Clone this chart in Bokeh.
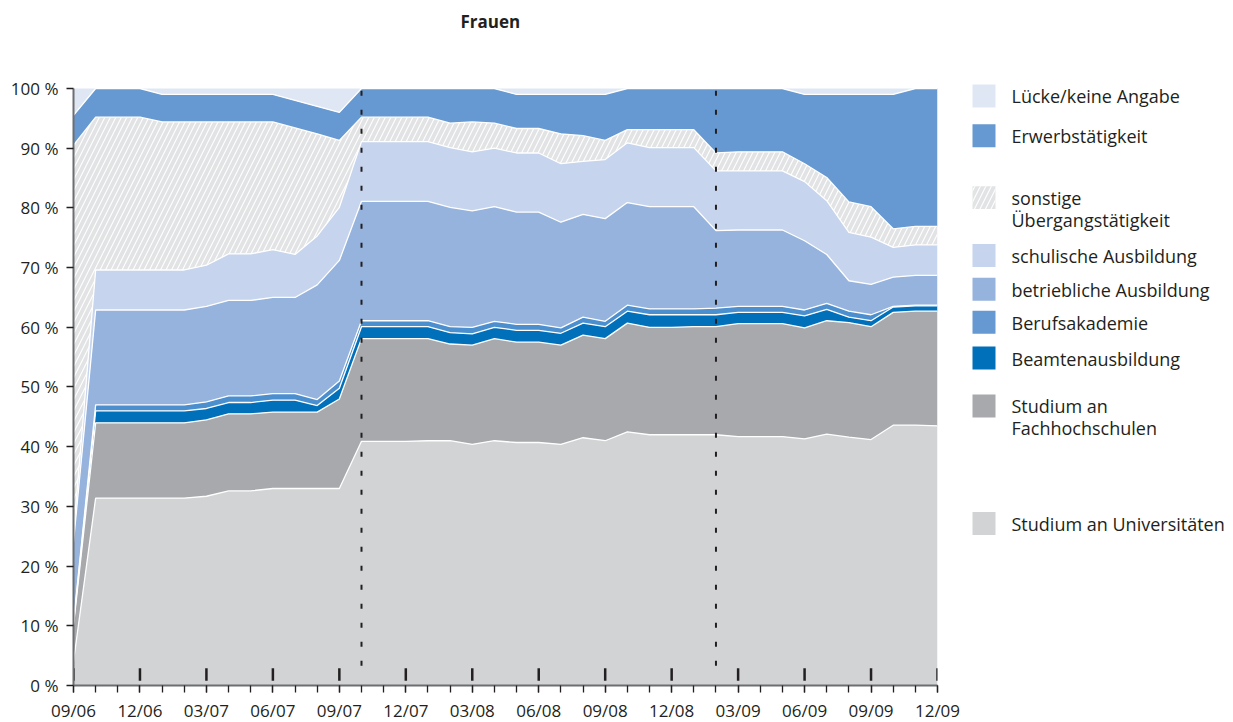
import numpy as np
from bokeh.plotting import figure
from bokeh.layouts import row
from bokeh.models import Range1d, FixedTicker, Title
from bokeh.embed import file_html
from bokeh.resources import INLINE
from bokeh.core.properties import value

# ---------------- data ----------------
months = list(range(40))  # 09/06 ... 12/09, monthly
quarter_ticks = list(range(0, 40, 3))
quarter_labels = ["09/06", "12/06", "03/07", "06/07", "09/07", "12/07", "03/08",
                  "06/08", "09/08", "12/08", "03/09", "06/09", "09/09", "12/09"]
period_markers = [13, 29]
y_ticks = list(range(0, 101, 10))

uni = [4.0, 31.4, 31.4, 31.4, 31.4, 31.4, 31.7, 32.6, 32.6, 33.0, 33.0, 33.0, 33.0,
       40.9, 40.9, 40.9, 41.0, 41.0, 40.4, 41.0, 40.7, 40.7, 40.4, 41.5, 41.0, 42.5,
       42.0, 42.0, 42.0, 42.0, 41.7, 41.7, 41.7, 41.3, 42.1, 41.6, 41.2, 43.6, 43.6, 43.5]
fh = [6.0, 12.6, 12.6, 12.6, 12.6, 12.6, 12.8, 12.9, 12.9, 12.8, 12.8, 12.8, 15.0,
      17.2, 17.2, 17.2, 17.1, 16.2, 16.6, 17.1, 16.8, 16.8, 16.6, 17.2, 17.1, 18.2,
      18.0, 18.0, 18.1, 18.1, 18.9, 18.9, 18.9, 18.6, 19.0, 19.2, 18.9, 18.9, 19.1, 19.2]
beamte = [0.3, 2.0, 2.0, 2.0, 2.0, 2.0, 1.9, 1.9, 1.9, 2.0, 2.0, 1.1, 1.8,
          2.0, 2.0, 2.0, 2.0, 1.9, 1.9, 1.9, 2.0, 2.0, 2.0, 2.0, 2.0, 2.0,
          2.1, 2.1, 2.0, 2.0, 1.9, 1.9, 1.9, 2.0, 1.9, 0.9, 1.0, 0.9, 0.9, 0.9]
ba = [0.3, 1.0, 1.0, 1.0, 1.0, 1.0, 1.1, 1.1, 1.1, 1.1, 1.1, 1.0, 1.2,
      1.0, 1.0, 1.0, 1.0, 1.0, 1.1, 1.0, 1.0, 1.0, 0.9, 1.0, 0.9, 1.0,
      1.0, 1.0, 1.0, 1.1, 1.0, 1.0, 1.0, 1.0, 1.0, 1.0, 1.0, 0.1, 0.1, 0.1]
betrieb = [13.4, 15.9, 15.9, 15.9, 15.9, 15.9, 16.0, 16.0, 16.0, 16.1, 16.1, 19.2, 20.2,
           20.0, 20.0, 20.0, 20.0, 20.0, 19.5, 19.2, 18.8, 18.8, 17.7, 17.2, 17.2, 17.2,
           17.1, 17.1, 17.1, 13.0, 12.8, 12.8, 12.8, 11.6, 8.2, 5.1, 5.1, 4.9, 5.0, 5.0]
schul = [1.5, 6.7, 6.7, 6.7, 6.7, 6.7, 6.9, 7.8, 7.8, 8.0, 7.2, 8.2, 8.9,
         10.0, 10.0, 10.0, 10.0, 10.0, 9.9, 9.8, 9.9, 9.9, 9.8, 8.9, 9.9, 10.0,
         9.9, 9.9, 9.9, 10.0, 9.9, 9.9, 9.9, 9.9, 9.0, 8.1, 7.9, 5.0, 5.1, 5.1]
sonst = [65.0, 25.6, 25.6, 25.6, 24.8, 24.8, 24.0, 22.1, 22.1, 21.4, 21.2, 17.1, 11.2,
         4.1, 4.1, 4.1, 4.1, 4.1, 5.0, 4.2, 4.1, 4.1, 5.0, 4.3, 3.2, 2.2,
         3.0, 3.0, 3.0, 3.0, 3.2, 3.2, 3.2, 3.0, 3.9, 5.1, 5.1, 3.1, 3.1, 3.1]
erwerb = [5.0, 4.8, 4.8, 4.8, 4.6, 4.6, 4.6, 4.6, 4.6, 4.6, 4.6, 4.6, 4.7,
          4.8, 4.8, 4.8, 4.8, 5.8, 5.6, 5.8, 5.7, 5.7, 6.6, 6.9, 7.7, 6.9,
          6.9, 6.9, 6.9, 10.8, 10.6, 10.6, 10.6, 11.6, 13.9, 18.0, 18.8, 22.5, 23.1, 23.1]
luecke = [4.5, 0, 0, 0, 1.0, 1.0, 1.0, 1.0, 1.0, 1.0, 2.0, 3.0, 4.0,
          0, 0, 0, 0, 0, 0, 0, 1.0, 1.0, 1.0, 1.0, 1.0, 0,
          0, 0, 0, 0, 0, 0, 0, 1.0, 1.0, 1.0, 1.0, 1.0, 0, 0]

# stacking order bottom -> top
names = ["Studium an Universitäten", "Studium an Fachhochschulen", "Beamtenausbildung",
         "Berufsakademie", "betriebliche Ausbildung", "schulische Ausbildung",
         "sonstige Übergangstätigkeit", "Erwerbstätigkeit", "Lücke/keine Angabe"]
values = [uni, fh, beamte, ba, betrieb, schul, sonst, erwerb, luecke]
colors = ["#d1d3d4", "#a7a9ac", "#0070ba", "#4b8fcf", "#95b3dc", "#c6d4ed",
          "#e2e3e4", "#6699d1", "#dfe7f5"]
legend_colors = ["#d1d3d4", "#a7a9ac", "#0070ba", "#6699d1", "#95b3dc", "#c6d4ed",
                 "#e2e3e4", "#6699d1", "#dfe7f5"]
hatched = [False, False, False, False, False, False, True, False, False]

FONT = "Open Sans"
INK = "#231f20"
Y_TOP = 101.34  # a little headroom above 100 % for the period separators

# ---------------- main chart ----------------
p = figure(frame_width=864, frame_height=605,
           min_border_left=73, min_border_right=28, min_border_top=80, min_border_bottom=37,
           x_range=Range1d(0, 39), y_range=Range1d(0, Y_TOP),
           toolbar_location=None, output_backend="svg")
p.outline_line_color = None
p.grid.grid_line_color = None
p.background_fill_color = "white"
p.border_fill_color = "white"

arr = np.array(values, dtype=float)
tops = np.cumsum(arr, axis=0)
bottoms = tops - arr
for i in range(len(names)):
    kw = dict(fill_color=colors[i])
    if hatched[i]:
        kw.update(hatch_pattern="/", hatch_color="white", hatch_scale=11,
                  hatch_weight=1.1, hatch_alpha=1.0)
    p.varea(x=months, y1=bottoms[i], y2=tops[i], **kw)
for i in range(len(names) - 1):
    p.line(months, tops[i], line_color="white", line_width=1.3)

# period separators
p.segment(x0=period_markers, y0=[3.3] * len(period_markers), x1=period_markers,
          y1=[Y_TOP] * len(period_markers), line_color=INK, line_width=2, line_dash="5 14")
# inner quarter marks
p.segment(x0=quarter_ticks, y0=[0.8] * len(quarter_ticks), x1=quarter_ticks,
          y1=[2.9] * len(quarter_ticks), line_color=INK, line_width=2.5)

# title: real title outermost, a blank spacer title next to the frame
p.title.text = "Frauen"
p.title.align = "left"
p.title.offset = 387
p.title.text_font = FONT
p.title.text_font_size = "17px"
p.title.text_font_style = "bold"
p.title.text_color = INK
p.title.standoff = 0
p.add_layout(Title(text=" ", text_font_size="41px", standoff=0), "above")

xa = p.xaxis[0]
xa.ticker = FixedTicker(ticks=quarter_ticks, minor_ticks=months)
xa.major_label_overrides = {t: l for t, l in zip(quarter_ticks, quarter_labels)}
ya = p.yaxis[0]
ya.ticker = FixedTicker(ticks=y_ticks)
ya.major_label_overrides = {v: f"{v} %" for v in y_ticks}
ya.bounds = (0, 100)
for ax in (xa, ya):
    ax.axis_line_color = "#6d6e71"
    ax.axis_line_width = 2
    ax.major_tick_line_color = INK
    ax.minor_tick_line_color = INK
    ax.major_tick_line_width = 1.3
    ax.minor_tick_line_width = 1.3
    ax.major_tick_in = 0
    ax.major_tick_out = 7
    ax.minor_tick_in = 0
    ax.minor_tick_out = 7
    ax.major_label_text_font = FONT
    ax.major_label_text_font_size = "17px"
    ax.major_label_text_color = INK
xa.major_label_standoff = 6
ya.major_label_standoff = 8
ya.minor_tick_out = 0

# ---------------- legend panel ----------------
# frame is aligned with the chart frame (page y 80 .. 685)
leg = figure(width=265, height=722, x_range=Range1d(965, 1230), y_range=Range1d(685, 80),
             min_border_left=0, min_border_right=0, min_border_top=80, min_border_bottom=37,
             toolbar_location=None, output_backend="svg",
             x_axis_location=None, y_axis_location=None)
leg.outline_line_color = None
leg.grid.grid_line_color = None

# legend order top -> bottom
leg_order = [8, 7, 6, 5, 4, 3, 2, 1, 0]
box_y = [95.5, 135.5, 197.5, 255.5, 289.5, 322.5, 358.5, 406.5, 524.5]
for k, idx in enumerate(leg_order):
    kw = dict(fill_color=legend_colors[idx], line_color=None)
    if hatched[idx]:
        kw.update(hatch_pattern="/", hatch_color="white", hatch_scale=11,
                  hatch_weight=1.1)
    leg.rect(x=[983.5], y=[box_y[k]], width=23, height=23, **kw)

label_lines = {
    "sonstige Übergangstätigkeit": ["sonstige", "Übergangstätigkeit"],
    "Studium an Fachhochschulen": ["Studium an", "Fachhochschulen"],
}
tx, ty, tt = [], [], []
for k, idx in enumerate(leg_order):
    lines = label_lines.get(names[idx], [names[idx]])
    for j, ln in enumerate(lines):
        tx.append(1011)
        ty.append(box_y[k] + 0.5 + j * 22)
        tt.append(ln)
leg.text(x=tx, y=ty, text=tt, text_baseline="middle", text_align="left",
         text_font=value(FONT), text_font_size="18px", text_color=INK)

layout = row(p, leg)
open("out.html", "w").write(file_html(layout, INLINE))
